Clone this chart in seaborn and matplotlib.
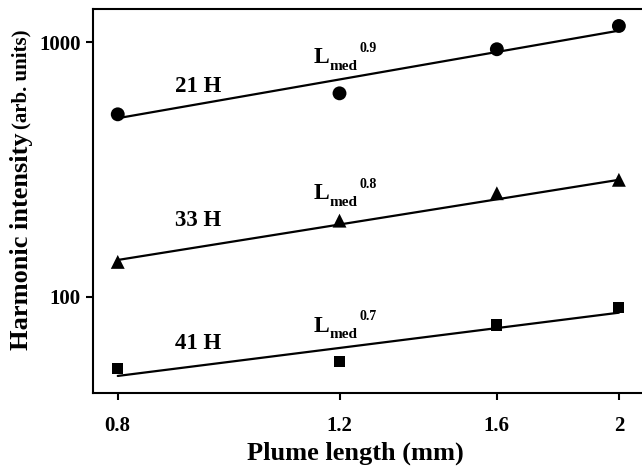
import numpy as np
import pandas as pd
import matplotlib
matplotlib.use("Agg")
import matplotlib.pyplot as plt
import seaborn as sns
from matplotlib.ticker import NullLocator

# measured harmonic intensities vs plume length
plume_mm = [0.8, 1.2, 1.6, 2.0]
h21 = [521, 630, 939, 1159]
h33 = [137, 199, 255, 288]
h41 = [52.3, 55.5, 77.4, 90.5]

# fitted power-law lines (end points)
fit_x = [0.8, 2.0]
fit21 = [503, 1111]
fit33 = [139.4, 288]
fit41 = [48.8, 86.5]

harmonics = ["21 H", "33 H", "41 H"]
exponents = ["0.9", "0.8", "0.7"]

sns.set_style("ticks")
plt.rcParams["font.family"] = ["Liberation Serif", "DejaVu Serif"]
plt.rcParams["font.weight"] = "bold"
plt.rcParams["text.color"] = "black"
plt.rcParams["axes.labelcolor"] = "black"

points = pd.DataFrame({
    "x": plume_mm * 3,
    "y": h21 + h33 + h41,
    "order": [h for h in harmonics for _ in plume_mm],
})
fits = pd.DataFrame({
    "x": fit_x * 3,
    "y": fit21 + fit33 + fit41,
    "order": [h for h in harmonics for _ in fit_x],
})

fig = plt.figure(figsize=(6.42, 4.67), dpi=100)
ax = fig.add_axes([0.1453, 0.1578, 0.8562, 0.8223])

sns.lineplot(data=fits, x="x", y="y", units="order", estimator=None,
             color="black", lw=1.6, ax=ax, legend=False)

marker_map = {"21 H": "o", "33 H": "^", "41 H": "s"}
size_map = {"21 H": 10, "33 H": 10, "41 H": 8}
for h in harmonics:
    sub = points[points["order"] == h]
    sns.scatterplot(data=sub, x="x", y="y", marker=marker_map[h],
                    s=size_map[h] ** 2, color="black", edgecolor="none",
                    ax=ax, legend=False, zorder=3)

ax.set_xscale("log")
ax.set_yscale("log")
ax.set_xlim(0.765, 2.09)
ax.set_ylim(41.7, 1348)
ax.set_xticks(plume_mm)
ax.set_xticklabels(["0.8", "1.2", "1.6", "2"])
ax.set_yticks([100, 1000])
ax.set_yticklabels(["100", "1000"])
ax.xaxis.set_minor_locator(NullLocator())
ax.yaxis.set_minor_locator(NullLocator())
ax.tick_params(axis="both", direction="out", length=5, width=1.5,
               labelsize=15, colors="black")
ax.tick_params(axis="x", pad=11)
ax.tick_params(axis="y", pad=4)
for lbl in ax.get_xticklabels() + ax.get_yticklabels():
    lbl.set_fontweight("bold")
for side in ["left", "bottom", "top"]:
    ax.spines[side].set_linewidth(1.5)
    ax.spines[side].set_color("black")
ax.spines["right"].set_visible(False)
ax.set_xlabel("")
ax.set_ylabel("")

# series labels
label_y = [669, 200, 65.2]
for h, yy in zip(harmonics, label_y):
    ax.text(0.9265, yy, h, ha="center", va="center", fontsize=16.5,
            fontweight="bold", color="black")

# L_med^p labels
lmed_y = [827, 241, 72.9]
for p, yy in zip(exponents, lmed_y):
    ax.text(1.145, yy, "L", ha="left", va="baseline", fontsize=17,
            fontweight="bold", color="black")
    ax.annotate("med", xy=(1.145, yy), xytext=(11, -4.8),
                textcoords="offset points", ha="left", va="baseline",
                fontsize=11, fontweight="bold", color="black")
    ax.annotate(p, xy=(1.145, yy), xytext=(33, 8.4),
                textcoords="offset points", ha="left", va="baseline",
                fontsize=10, fontweight="bold", color="black")

fig.text(0.355 / 0.642, 0.030, "Plume length (mm)", ha="center",
         va="center", fontsize=19, fontweight="bold", color="black")
fig.text(0.033, 0.4829, "Harmonic intensity", rotation=90, ha="center",
         va="center", fontsize=19, fontweight="bold", color="black")
fig.text(0.033, 0.8308, "(arb. units)", rotation=90, ha="center",
         va="center", fontsize=15, fontweight="bold", color="black")

fig.savefig("out.png", dpi=100)
